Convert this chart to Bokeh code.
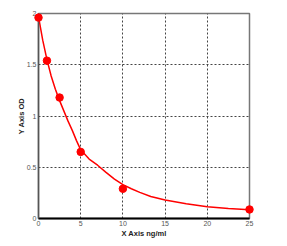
from bokeh.plotting import figure
from bokeh.embed import file_html
from bokeh.resources import INLINE
from bokeh.models import FixedTicker, Range1d

# standard points
pt_x = [0, 1, 2.5, 5, 10, 25]
pt_y = [1.96, 1.54, 1.18, 0.65, 0.29, 0.088]

# fitted curve
curve_x = [0, 0.5, 1, 1.5, 2, 2.5, 3, 3.5, 4, 4.5, 5, 6, 7, 8, 9, 10, 11, 12, 13.3, 15, 17.5, 20, 22.5, 25]
curve_y = [1.97, 1.74, 1.55, 1.39, 1.26, 1.15, 1.05, 0.95, 0.86, 0.76, 0.67, 0.58, 0.52, 0.45, 0.385, 0.33, 0.29, 0.255, 0.215, 0.18, 0.145, 0.115, 0.097, 0.085]

x_ticks = [0, 5, 10, 15, 20, 25]
y_ticks = [0, 0.5, 1, 1.5, 2]

p = figure(width=287, height=246, output_backend="svg", toolbar_location=None,
           x_range=Range1d(0, 25), y_range=Range1d(0, 2),
           min_border_left=38, min_border_right=38, min_border_top=13, min_border_bottom=28)
p.background_fill_color = "white"
p.border_fill_color = "white"
p.outline_line_color = "#777777"
p.outline_line_width = 1.5

for ax, ticks in ((p.xaxis[0], x_ticks), (p.yaxis[0], y_ticks)):
    ax.ticker = FixedTicker(ticks=ticks)
    ax.major_tick_out = 0
    ax.major_tick_in = 0
    ax.minor_tick_out = 0
    ax.minor_tick_in = 0
    ax.major_label_text_font = "Liberation Sans"
    ax.major_label_text_font_size = "7px"
    ax.major_label_text_color = "#555555"
    ax.axis_label_text_font = "Liberation Sans"
    ax.axis_label_text_font_size = "7.5px"
    ax.axis_label_text_font_style = "bold"
    ax.axis_label_text_color = "#222222"
    ax.major_label_standoff = 2

p.xaxis.axis_label = "X Axis ng/ml"
p.yaxis.axis_label = "Y Axis OD"
p.xaxis.axis_line_color = "black"
p.xaxis.axis_line_width = 2
p.yaxis.axis_line_color = "#555555"
p.yaxis.axis_line_width = 1.5
p.xaxis.axis_label_standoff = 0
p.yaxis.axis_label_standoff = -2
p.xaxis.major_label_overrides = {0: "0", 5: "5", 10: "10", 15: "15", 20: "20", 25: "25"}
p.yaxis.major_label_overrides = {0: "0", 0.5: "0.5", 1: "1", 1.5: "1.5", 2: "2"}

p.xgrid.ticker = FixedTicker(ticks=[5, 10, 15, 20])
p.ygrid.ticker = FixedTicker(ticks=[0.5, 1, 1.5])
p.grid.grid_line_color = "#444444"
p.grid.grid_line_dash = "2 2"
p.grid.grid_line_width = 1

p.line(curve_x, curve_y, line_color="#ff0000", line_width=1.5)
r = p.scatter(pt_x, pt_y, size=7.5, fill_color="#ff0000", line_color="#ff0000", level="overlay")

open("out.html", "w").write(file_html(p, INLINE))
